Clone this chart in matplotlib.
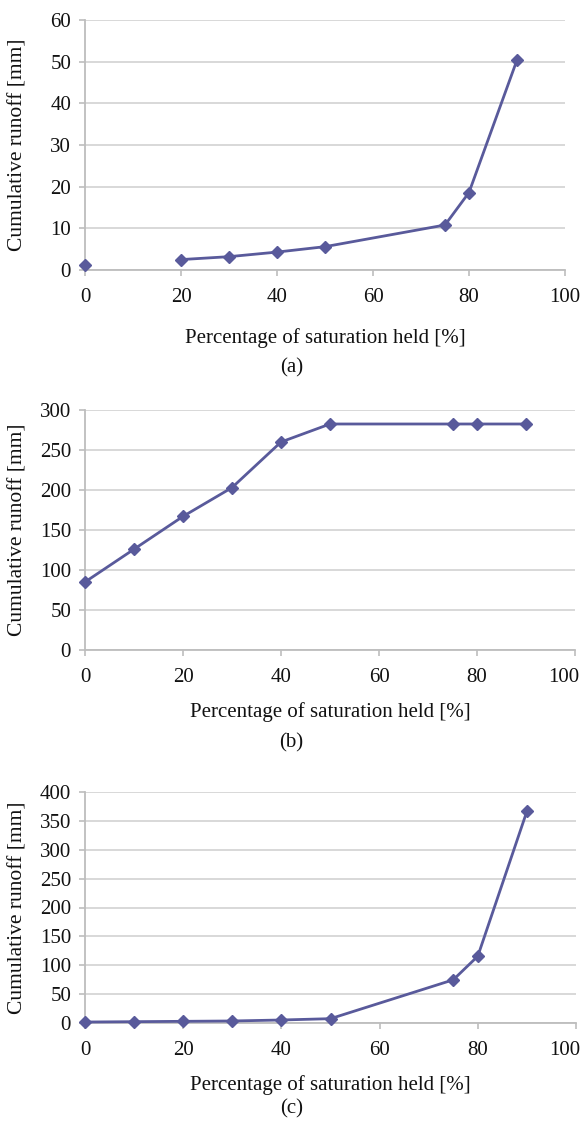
import numpy as np
import matplotlib
matplotlib.use("Agg")
import matplotlib.pyplot as plt
import matplotlib.transforms as mtransforms

plt.rcParams['font.family'] = ['Liberation Serif', 'DejaVu Serif']

# ---- data ----
x_a = [0, 10, 20, 30, 40, 50, 75, 80, 90]
y_a = [1.1, np.nan, 2.5, 3.2, 4.3, 5.6, 10.8, 18.6, 50.4]

x_b = [0, 10, 20, 30, 40, 50, 75, 80, 90]
y_b = [85, 126, 167, 203, 260, 282.5, 282.5, 282.5, 282.5]

x_c = [0, 10, 20, 30, 40, 50, 75, 80, 90]
y_c = [1.7, 2.3, 2.9, 3.5, 5.2, 7.5, 74.8, 115.7, 366.6]

x_ticks = [0, 20, 40, 60, 80, 100]
yticks_a = [0, 10, 20, 30, 40, 50, 60]
yticks_b = [0, 50, 100, 150, 200, 250, 300]
yticks_c = [0, 50, 100, 150, 200, 250, 300, 350, 400]

xlabel = "Percentage of saturation held [%]"
ylabel = "Cumulative runoff [mm]"
captions = ["(a)", "(b)", "(c)"]

W, H = 583, 1126
fig = plt.figure(figsize=(W / 100, H / 100), dpi=100)

line_color = "#595a9b"
grid_color = "#d6d6d6"
spine_color = "#bdbdbd"

# axes rectangles in pixels: left, right, top, bottom
rects = [(85, 565, 20, 270), (85, 575, 410, 650), (85, 576, 792, 1023)]
xlabel_y = [338, 712, 1085]
caption_y = [368, 743, 1109]

panels = [(x_a, y_a, yticks_a), (x_b, y_b, yticks_b), (x_c, y_c, yticks_c)]

for i, ((xs, ys, yt), (l, r, t, b)) in enumerate(zip(panels, rects)):
    ax = fig.add_axes([l / W, 1 - b / H, (r - l) / W, (b - t) / H])
    ax.plot(xs, ys, color=line_color, lw=2, marker='D', ms=6,
            markerfacecolor=line_color, markeredgecolor=line_color, zorder=3,
            clip_on=False)
    ax.set_xlim(0, 100)
    ax.set_ylim(yt[0], yt[-1])
    ax.set_xticks(x_ticks)
    ax.set_yticks(yt)
    ax.yaxis.grid(True, color=grid_color, lw=1.3)
    ax.set_axisbelow(True)
    for s in ['top', 'right']:
        ax.spines[s].set_visible(False)
    for s in ['left', 'bottom']:
        ax.spines[s].set_color(spine_color)
        ax.spines[s].set_linewidth(1.3)
    ax.tick_params(axis='x', direction='out', length=4, width=1.2,
                   color=spine_color, labelsize=15, pad=9, labelcolor='#111111')
    ax.tick_params(axis='y', direction='out', length=4, width=1.2,
                   color=spine_color, labelsize=15, pad=6, labelcolor='#111111')
    ax.set_xlabel(xlabel, fontsize=15, color='#111111')
    ax.xaxis.label.set_va('center')
    ax.xaxis.set_label_coords(0.5, -(xlabel_y[i] - b) / (b - t))
    ax.set_ylabel(ylabel, fontsize=15.5, color='#111111')
    ax.yaxis.label.set_va('center')
    ax.yaxis.set_label_coords(-(l - 18) / (r - l), 0.5)
    fig.text(0.5, 1 - caption_y[i] / H, captions[i], ha='center', va='center',
             fontsize=15, color='#111111')
    if i > 0:
        # keep the last x tick label inside the figure
        lab = ax.get_xticklabels()[-1]
        lab.set_transform(lab.get_transform() +
                          mtransforms.ScaledTranslation(-8 / 72, 0, fig.dpi_scale_trans))

fig.savefig("out.png", dpi=100)
